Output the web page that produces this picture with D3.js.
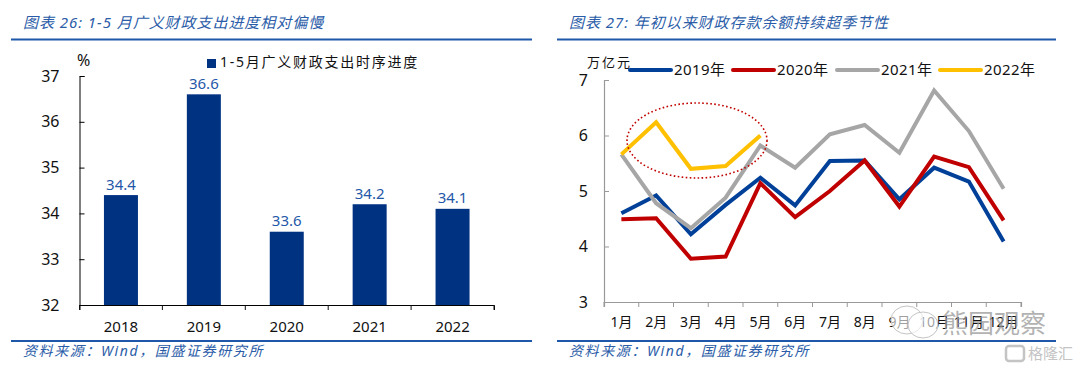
<!DOCTYPE html>
<html>
<head>
<meta charset="utf-8">
<script src="https://cdn.jsdelivr.net/npm/d3@7"></script>
<style>
  body { margin: 0; background: #fff; }
  text { font-family: "Noto Sans", "Noto Sans CJK SC", sans-serif; fill: #111; }
  .head { font-style: italic; fill: #2a5ca8; }
</style>
</head>
<body>
<svg id="chart" width="1080" height="370"></svg>
<script>
// left chart data
var years = ["2018", "2019", "2020", "2021", "2022"];
var progress = [34.4, 36.6, 33.6, 34.2, 34.1];
var progressTicks = [32, 33, 34, 35, 36, 37];

// right chart data
var months = ["1月", "2月", "3月", "4月", "5月", "6月", "7月", "8月", "9月", "10月", "11月", "12月"];
var deposit2019 = [4.6, 4.92, 4.22, 4.75, 5.24, 4.74, 5.54, 5.55, 4.85, 5.42, 5.17, 4.09];
var deposit2020 = [4.49, 4.51, 3.78, 3.82, 5.14, 4.53, 5.0, 5.55, 4.72, 5.62, 5.43, 4.47];
var deposit2021 = [5.66, 4.78, 4.33, 4.88, 5.82, 5.42, 6.02, 6.19, 5.69, 6.81, 6.08, 5.04];
var deposit2022 = [5.66, 6.24, 5.4, 5.45, 6.0];
var depositTicks = [3, 4, 5, 6, 7];

var svg = d3.select("#chart");
var blue = "#003282";

// headers and source lines of both panels
function frame(x0, x1, textX, title) {
  svg.append("text").attr("class", "head").attr("x", textX).attr("y", 28)
    .style("font-size", "15px").style("letter-spacing", "0.95px").text(title);
  svg.append("text").attr("class", "head").attr("x", textX).attr("y", 356)
    .style("font-size", "14px").style("letter-spacing", "1.6px").text("资料来源：Wind，国盛证券研究所");
  [39.5, 341].forEach(function (y) {
    svg.append("line").attr("x1", x0).attr("x2", x1).attr("y1", y).attr("y2", y)
      .attr("stroke", "#1f58a8").attr("stroke-width", 2);
  });
}
frame(11, 532, 23, "图表 26:  1-5 月广义财政支出进度相对偏慢");
frame(557, 1056, 569, "图表 27:  年初以来财政存款余额持续超季节性");

// ---- bar chart ----
var xBar = d3.scaleBand().domain(years).range([79.5, 494]);
var yBar = d3.scaleLinear().domain([32, 37]).range([305, 76]);

var axisBarX = svg.append("g").attr("transform", "translate(0,305)")
  .call(d3.axisBottom(xBar).tickSize(5).tickSizeOuter(5).tickPadding(11));
var axisBarY = svg.append("g").attr("transform", "translate(79.5,0)")
  .call(d3.axisLeft(yBar).tickValues(progressTicks).tickSize(-5).tickSizeOuter(-5).tickPadding(20).tickFormat(d3.format("d")));

// band axis ticks sit on the band edges in the original
axisBarX.selectAll(".tick line").remove();
axisBarX.selectAll(".tickEdge")
  .data(d3.range(years.length + 1))
  .enter().append("line")
  .attr("x1", (i) => xBar.range()[0] + i * xBar.step())
  .attr("x2", (i) => xBar.range()[0] + i * xBar.step())
  .attr("y1", 0).attr("y2", 5).attr("stroke", "#111");
axisBarX.selectAll("text").style("font-size", "15px");
axisBarY.selectAll("text").style("font-size", "16px");

svg.selectAll(".bar")
  .data(progress)
  .enter().append("rect")
  .attr("class", "bar")
  .attr("x", (d, i) => xBar(years[i]) + xBar.bandwidth() / 2 - 17)
  .attr("width", 34)
  .attr("y", (d) => yBar(d))
  .attr("height", (d) => yBar(32) - yBar(d))
  .attr("fill", blue);

svg.selectAll(".barLabel")
  .data(progress)
  .enter().append("text")
  .attr("class", "barLabel")
  .attr("x", (d, i) => xBar(years[i]) + xBar.bandwidth() / 2)
  .attr("y", (d) => yBar(d) - 5.5)
  .attr("text-anchor", "middle")
  .style("font-size", "15px")
  .style("fill", "#1f58a8")
  .text((d) => d.toFixed(1));

svg.append("text").attr("x", 77).attr("y", 66).style("font-size", "16px").text("%");
svg.append("rect").attr("x", 207).attr("y", 59).attr("width", 9).attr("height", 9).attr("fill", blue);
svg.append("text").attr("x", 220).attr("y", 67).style("font-size", "14px").style("letter-spacing", "1.75px").text("1-5月广义财政支出时序进度");

// ---- line chart ----
var xLine = d3.scaleBand().domain(months).range([604, 1021]);
var yLine = d3.scaleLinear().domain([3, 7]).range([302, 80]);
var xMid = (i) => xLine(months[i]) + xLine.bandwidth() / 2;

var axisLineX = svg.append("g").attr("transform", "translate(0,302)")
  .call(d3.axisBottom(xLine).tickSize(5).tickSizeOuter(5).tickPadding(10));
var axisLineY = svg.append("g").attr("transform", "translate(604,0)")
  .call(d3.axisLeft(yLine).tickValues(depositTicks).tickSize(-5).tickSizeOuter(-5).tickPadding(16).tickFormat(d3.format("d")));

axisLineX.selectAll(".tick line").remove();
axisLineX.selectAll(".tickEdge")
  .data(d3.range(months.length + 1))
  .enter().append("line")
  .attr("x1", (i) => xLine.range()[0] + i * xLine.step())
  .attr("x2", (i) => xLine.range()[0] + i * xLine.step())
  .attr("y1", 0).attr("y2", 5).attr("stroke", "#999");
[axisLineX, axisLineY].forEach(function (a) {
  a.selectAll("path").attr("stroke", "#999").attr("stroke-width", 1.2);
  a.selectAll("line").attr("stroke", "#999");
});
axisLineX.selectAll("text").style("font-size", "14px");
axisLineY.selectAll("text").style("font-size", "16px");

var series = [
  { name: "2019年", values: deposit2019, color: "#004098", legendX: 630 },
  { name: "2020年", values: deposit2020, color: "#c00000", legendX: 733 },
  { name: "2021年", values: deposit2021, color: "#a6a6a6", legendX: 837 },
  { name: "2022年", values: deposit2022, color: "#ffc000", legendX: 940 }
];

var line = d3.line().x((d, i) => xMid(i)).y((d) => yLine(d));

series.forEach(function (s) {
  svg.append("path")
    .attr("d", line(s.values))
    .attr("fill", "none")
    .attr("stroke", s.color)
    .attr("stroke-width", 4)
    .attr("stroke-linejoin", "miter");

  svg.append("line")
    .attr("x1", s.legendX).attr("x2", s.legendX + 41)
    .attr("y1", 70).attr("y2", 70)
    .attr("stroke", s.color).attr("stroke-width", 4)
    .attr("stroke-linecap", "round");
  svg.append("text")
    .attr("x", s.legendX + 44).attr("y", 75)
    .style("font-size", "15px").style("letter-spacing", "0.4px").text(s.name);
});

svg.append("text").attr("x", 587).attr("y", 67).style("font-size", "13px").style("letter-spacing", "2px").text("万亿元");

// dotted ellipse around the 2022 line
svg.append("ellipse")
  .attr("cx", 697).attr("cy", 140.5).attr("rx", 70).attr("ry", 37.5)
  .attr("fill", "none").attr("stroke", "#c00000")
  .attr("stroke-width", 1.6).attr("stroke-dasharray", "1.6 2.4");

// watermarks
var wechat = svg.append("g").attr("fill", "#fff").attr("fill-opacity", 0.6).attr("stroke", "#c4c4c4");
wechat.append("ellipse").attr("cx", 907).attr("cy", 320).attr("rx", 16).attr("ry", 14);
wechat.append("ellipse").attr("cx", 923).attr("cy", 325).attr("rx", 15).attr("ry", 13);
svg.append("text").attr("x", 942).attr("y", 333)
  .style("font-size", "26px").style("fill", "#999").style("fill-opacity", 0.75).text("熊园观察");
svg.append("rect").attr("x", 1006).attr("y", 346).attr("width", 18).attr("height", 15).attr("rx", 3)
  .attr("fill", "none").attr("stroke", "#c4c4c4").attr("stroke-width", 2.5);
svg.append("text").attr("x", 1028).attr("y", 359)
  .style("font-size", "15px").style("fill", "#c4c4c4").text("格隆汇");
</script>
</body>
</html>
